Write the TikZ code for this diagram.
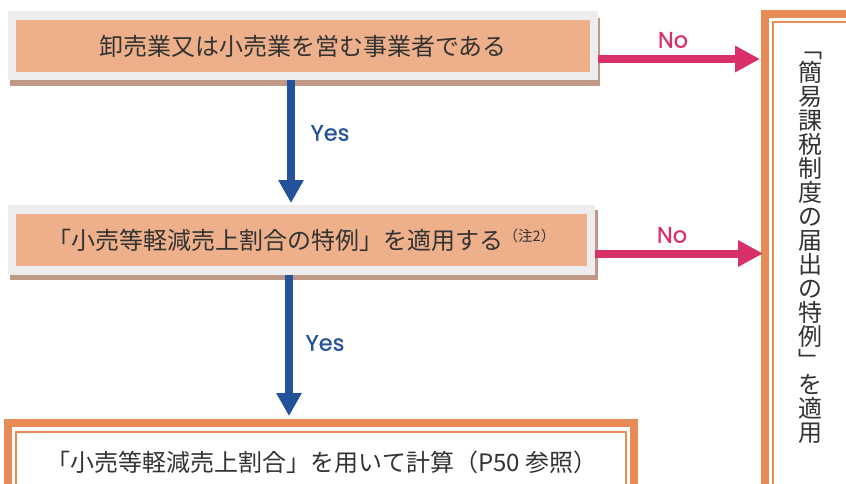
\documentclass[tikz,border=0pt]{standalone}
\usepackage{fontspec}
\newfontfamily\jp{Noto Sans CJK JP}
\newfontfamily\lat{Poppins}[FakeBold=0.6]
\usetikzlibrary{arrows.meta}
\definecolor{greyc}{HTML}{EDEDED}
\definecolor{shadowc}{HTML}{C09886}
\definecolor{orangec}{HTML}{EDB08A}
\definecolor{framec}{HTML}{E88B55}
\definecolor{pinkc}{HTML}{D93068}
\definecolor{bluec}{HTML}{23529A}
\definecolor{textc}{HTML}{333333}
\begin{document}
\begin{tikzpicture}[x=1pt,y=-1pt,
  every node/.style={inner sep=0pt,outer sep=0pt},
  greyframe/.style={fill=greyc,draw=none},
  orangein/.style={fill=orangec,draw=none,text=textc,font=\jp\fontsize{24}{24}\selectfont},
  thickframe/.style={draw=framec,line width=8pt,fill=white},
  thinframe/.style={draw=framec,line width=2pt},
  plaintext/.style={text=textc,font=\jp\fontsize{24}{24}\selectfont},
  yesarrow/.style={draw=bluec,line width=8pt,-{Triangle[length=23pt,width=24pt]}},
  noarrow/.style={draw=pinkc,line width=8pt,-{Triangle[length=25pt,width=25pt]}},
  yeslabel/.style={text=bluec,font=\lat\fontsize{22.5}{22.5}\selectfont},
  nolabel/.style={text=pinkc,font=\lat\fontsize{22.5}{22.5}\selectfont}]
\useasboundingbox (0,0) rectangle (846,483);
% box 1
\fill[shadowc] (10,18) rectangle (600,86);
\node[greyframe,minimum width=590pt,minimum height=69pt] (f1) at (303,45.5) {};
\node[orangein,minimum width=574pt,minimum height=52pt] (b1) at (303,46) {卸売業又は小売業を営む事業者である};
% box 2
\fill[shadowc] (10,210) rectangle (598,280);
\node[greyframe,minimum width=587pt,minimum height=70pt] (f2) at (301.5,240) {};
\node[orangein,minimum width=571pt,minimum height=52pt] (b2) at (301.5,240) {「小売等軽減売上割合の特例」を適用する\raisebox{8pt}{\fontsize{14.5}{15}\selectfont （注2）}};
% box 3
\node[thickframe,minimum width=626pt,minimum height=100pt] (f3) at (321,473) {};
\node[thinframe,minimum width=610pt,minimum height=90pt] (i3) at (321,477) {};
\node[plaintext] (b3) at (322,462) {「小売等軽減売上割合」を用いて計算（P50\hspace{5pt}参照）};
% right box
\node[thickframe,minimum width=135pt,minimum height=506pt] (r) at (832.5,267) {};
\node[thinframe,minimum width=119pt,minimum height=490pt] (ri) at (832.5,267) {};
\node[plaintext,align=center] (rt) at (810,248) {﹁\\簡\\易\\課\\税\\制\\度\\の\\届\\出\\の\\特\\例\\﹂\\を\\適\\用};
% arrows
\coordinate (y1e) at (291,203);
\coordinate (y2e) at (289,416);
\coordinate (n1e) at (760,59);
\coordinate (n2e) at (763,253.5);
\draw[yesarrow] ([xshift=-12pt]f1.south) -- (y1e);
\draw[yesarrow] ([xshift=-12.5pt]f2.south) -- (y2e);
\draw[noarrow] ([yshift=-13.5pt]f1.east) -- (n1e);
\draw[noarrow] ([yshift=-13.5pt]f2.east) -- (n2e);
\node[yeslabel] (yes1) at (330,133) {Yes};
\node[yeslabel] (yes2) at (325,343) {Yes};
\node[nolabel] (no1) at (673,40) {No};
\node[nolabel] (no2) at (672,235) {No};
\end{tikzpicture}
\end{document}
